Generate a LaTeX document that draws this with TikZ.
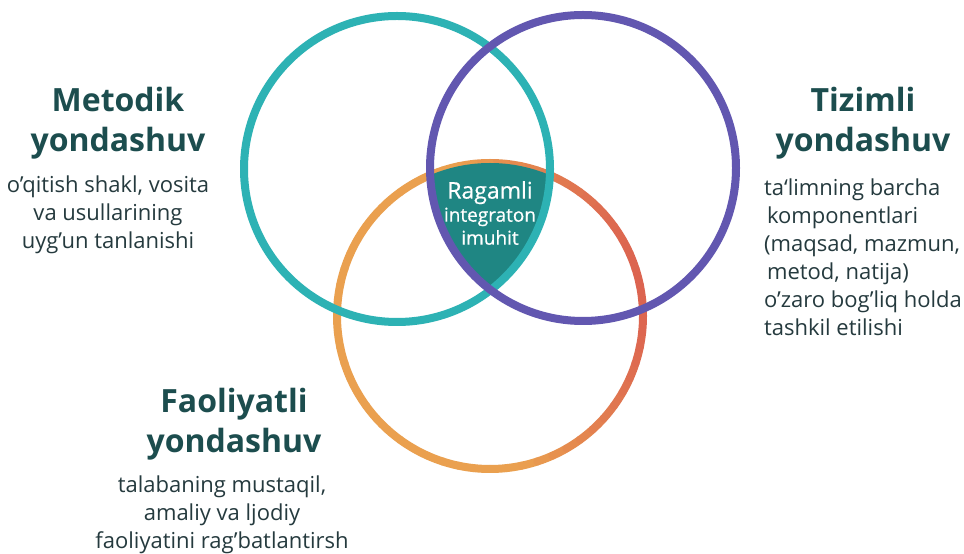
\documentclass[tikz,border=0pt]{standalone}
\usepackage{fontspec}
\setmainfont{Open Sans}
\newfontfamily\coresemi{Open Sans}[FakeBold=0.6]
\usetikzlibrary{positioning}
\definecolor{ringteal}{HTML}{2DB2B4}
\definecolor{ringviolet}{HTML}{6257B0}
\definecolor{ringorange}{HTML}{EAA04F}
\definecolor{ringred}{HTML}{DC6450}
\definecolor{corefill}{HTML}{1F8683}
\definecolor{headc}{HTML}{1C4D4E}
\definecolor{notec}{HTML}{253A3E}
\tikzset{
  ring/.style={line width=8pt},
  heading/.style={font=\fontsize{32}{40}\selectfont\bfseries,text=headc,align=center},
  note/.style={font=\fontsize{22}{28}\selectfont,text=notec},
}
\begin{document}
\begin{tikzpicture}[x=1pt,y=1pt,on grid]
  \useasboundingbox[fill=white] (0,0) rectangle (964,554);
  \coordinate (met) at (397,385);
  \coordinate (tiz) at (583,386);
  \coordinate (fao) at (490,238);
  % lower ring, orange turning red on the right
  \foreach \a in {0,6,...,354}{
    \pgfmathsetmacro\mix{max(0,cos(\a-10))*100}
    \draw[ring,line cap=round,color=ringred!\mix!ringorange]
      ([shift={(\a:153)}]fao) arc (\a:\a+6:153);
  }
  % common part of the three rings
  \begin{scope}
    \clip (met) circle (153);
    \clip (tiz) circle (153);
    \fill[corefill] (fao) circle (153);
  \end{scope}
  \draw[ring,ringteal] (met) circle (153);
  \draw[ring,ringviolet] (tiz) circle (153);
  \node[text=white,align=center,font=\coresemi\fontsize{19}{23}\selectfont] (core) at (490,341)
    {{\fontsize{23}{27}\selectfont Ragamli}\\integraton\\imuhit};
  \node[heading] (methead) at (118,431) {Metodik\\yondashuv};
  \node[note,align=center,below=92pt of methead,xshift=-10pt] (metnote)
    {o’qitish shakl, vosita\\va usullarining\\uyg’un tanlanishi};
  \node[heading] (tizhead) at (863,431) {Tizimli\\yondashuv};
  \node[note,align=left,below=134pt of tizhead] (tiznote)
    {ta‘limning barcha\\\hspace*{3pt}komponentlari\\(maqsad, mazmun,\\\hspace*{3pt}metod, natija)\\o’zaro bog’liq holda\\tashkil etilishi};
  \node[heading] (faohead) at (234,130) {Faoliyatli\\yondashuv};
  \node[note,align=center,below=91pt of faohead,xshift=-12pt] (faonote)
    {talabaning mustaqil,\\amaliy va ljodiy\\faoliyatini rag’batlantirsh};
\end{tikzpicture}
\end{document}
